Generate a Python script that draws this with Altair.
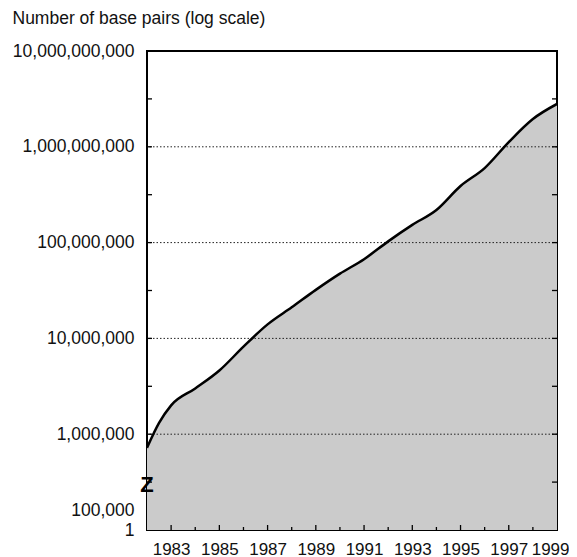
import altair as alt
import pandas as pd

# Cumulative number of base pairs
years = [1982, 1982.5, 1983, 1984, 1985, 1986, 1987, 1988, 1989, 1990,
         1991, 1992, 1993, 1994, 1995, 1996, 1997, 1998, 1999]
base_pairs = [7.2e5, 1.31e6, 2.0e6, 3.0e6, 4.62e6, 8.2e6, 1.40e7, 2.11e7, 3.21e7, 4.74e7,
              6.71e7, 1.03e8, 1.53e8, 2.19e8, 3.9e8, 6.0e8, 1.12e9, 1.95e9, 2.8e9]

# Axis tick labels
year_labels = [1983, 1985, 1987, 1989, 1991, 1993, 1995, 1997, 1999]
y_label_values = [1e5, 1.59e5, 1e6, 1e7, 1e8, 1e9, 1e10]
grid_values = [1e6, 1e7, 1e8, 1e9]
side_tick_values = [316228, 1e6, 3162278, 1e7, 31622777, 1e8, 316227766, 1e9, 3162277660]
minor_years = [1984, 1986, 1988, 1990, 1992, 1994, 1996, 1998]
major_years = [1983, 1985, 1987, 1989, 1991, 1993, 1995, 1997]

FONT = "Liberation Sans"
df = pd.DataFrame({"year": years, "bp": base_pairs})

xscale = alt.Scale(domain=[1982, 1999], nice=False, zero=False)
yscale = alt.Scale(type="log", domain=[1e5, 1e10], nice=False)

x_axis = alt.Axis(values=year_labels, format="d", ticks=False, domain=False, grid=False,
                  labelFont=FONT, labelFontSize=17, labelColor="#111", labelPadding=11,
                  labelFlush=True, labelFlushOffset=12, labelOverlap=False, title="")
y_axis = alt.Axis(values=y_label_values,
                  labelExpr="datum.value < 1.2e5 ? '1' : (datum.value < 5e5 ? '100,000' : format(datum.value, ','))",
                  ticks=False, domain=False, grid=False,
                  labelFont=FONT, labelFontSize=17.5, labelColor="#111", labelPadding=13,
                  labelFlush=False, labelOverlap=False, labelBound=False,
                  title="Number of base pairs (log scale)", titleAngle=0, titleAlign="left",
                  titleBaseline="middle", titleX=-135, titleY=-33, titleFont=FONT,
                  titleFontSize=17.5, titleFontWeight="normal", titleColor="#111")

area = alt.Chart(df).mark_area(color="#cbcbcb", interpolate="monotone", clip=True).encode(
    x=alt.X("year:Q", scale=xscale, axis=x_axis),
    y=alt.Y("bp:Q", scale=yscale, axis=y_axis, stack=False),
    y2=alt.datum(1e5),
)

line = alt.Chart(df).mark_line(color="black", strokeWidth=2.5, interpolate="monotone", clip=True).encode(
    x=alt.X("year:Q", scale=xscale),
    y=alt.Y("bp:Q", scale=yscale),
)

grid = alt.Chart(pd.DataFrame({"bp": grid_values})).mark_rule(
    color="#222", strokeWidth=1, strokeDash=[1.5, 2]).encode(
    y=alt.Y("bp:Q", scale=yscale),
)

side_df = pd.DataFrame({"bp": side_tick_values})
left_ticks = alt.Chart(side_df).mark_point(
    shape="M0,0L1,0", size=100, filled=False, stroke="black", strokeWidth=1.3, opacity=1).encode(
    x=alt.datum(1982), y=alt.Y("bp:Q", scale=yscale))
right_ticks = alt.Chart(side_df).mark_point(
    shape="M0,0L-1,0", size=100, filled=False, stroke="black", strokeWidth=1.3, opacity=1).encode(
    x=alt.datum(1999), y=alt.Y("bp:Q", scale=yscale))

bottom_major = alt.Chart(pd.DataFrame({"year": major_years})).mark_point(
    shape="M0,0L0,-1", size=100, filled=False, stroke="black", strokeWidth=1.3, opacity=1).encode(
    x=alt.X("year:Q", scale=xscale), y=alt.datum(1e5))
bottom_minor = alt.Chart(pd.DataFrame({"year": minor_years})).mark_point(
    shape="M0,0L0,-1", size=36, filled=False, stroke="black", strokeWidth=1.3, opacity=1).encode(
    x=alt.X("year:Q", scale=xscale), y=alt.datum(1e5))

brk = alt.Chart(pd.DataFrame({"t": ["Z"]})).mark_text(
    font=FONT, fontSize=22, fontWeight="bold", color="black", align="center", baseline="middle").encode(
    text="t:N", x=alt.value(0), y=alt.value(434))

chart = alt.layer(area, grid, line, left_ticks, right_ticks, bottom_major, bottom_minor, brk).properties(
    width=410, height=479,
    autosize=alt.AutoSizeParams(type="none"),
    padding={"left": 139, "top": 43, "right": 12, "bottom": 27},
    background="white",
).configure_view(stroke="black", strokeWidth=2)

chart.save("out.html", embed_options={"renderer": "svg", "actions": False})
